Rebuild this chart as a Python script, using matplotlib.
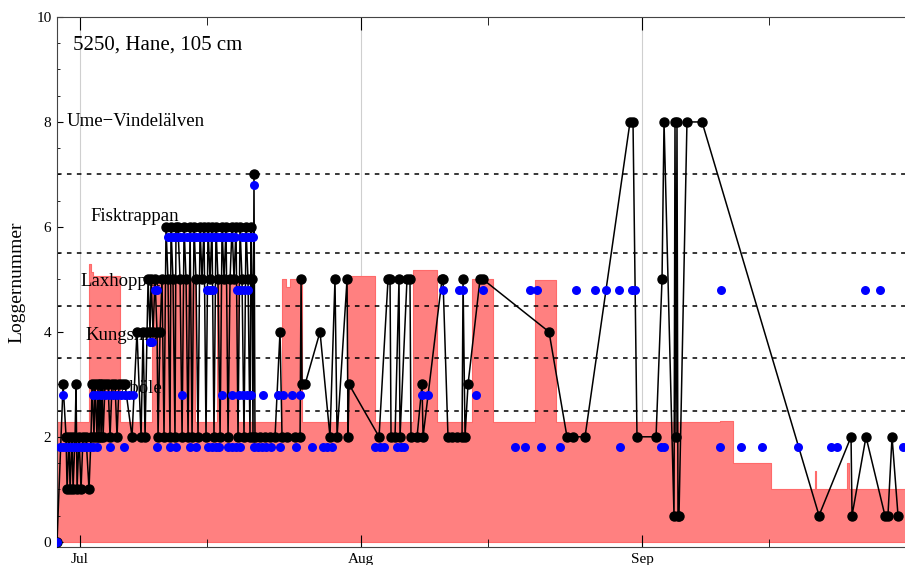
import matplotlib
matplotlib.use("Agg")
import matplotlib.pyplot as plt

plt.rcParams['font.family'] = ['Liberation Serif', 'DejaVu Serif']

# days since 1 July
month_ticks = [0, 31, 62]
month_labels = ['Jul', 'Aug', 'Sep']
mid_ticks = [14, 45, 76]

# red background (step profile)
red_day = [-2.54, 0.99, 1.21, 1.43, 4.41, 7.94, 12.68, 15.10, 17.42, 22.27, 22.71, 23.15,
           24.48, 29.44, 32.52, 36.71, 39.36, 43.22, 45.53, 50.17, 52.48, 70.56, 72.0,
           76.18, 81.04, 81.2, 84.6, 84.75, 91.2]
red_level = [2.28, 5.3, 5.15, 5.07, 2.28, 5.0, 2.28, 5.0, 2.28, 5.0, 4.85, 5.0,
             2.28, 5.07, 2.28, 5.17, 2.28, 5.0, 2.28, 4.98, 2.28, 2.3, 1.5,
             1.0, 1.35, 1.0, 1.5, 1.0, 1.0]

# logger positions (black line)
black_day = [-2.54, -1.87, -1.54, -1.43, -1.21, -1.10, -0.88, -0.77, -0.55, -0.44, -0.33, -0.11,
             0.11, 0.33, 0.66, 0.99, 1.21, 1.32, 1.54, 1.65, 1.87, 1.98, 2.09, 2.21, 2.32,
             2.43, 2.54, 2.76, 3.09, 3.31, 3.53, 3.86, 4.08, 4.30, 4.63, 4.96, 5.73, 6.28,
             6.73, 6.95, 7.17, 7.39, 7.50, 7.72, 7.83, 8.05, 8.27, 8.49, 8.60, 8.82, 9.04,
             9.26, 9.48, 9.70, 9.92, 10.03, 10.25, 10.47, 10.58, 10.80, 11.03, 11.25, 11.47,
             11.69, 11.91, 12.13, 12.35, 12.57, 12.79, 13.01, 13.23, 13.45, 13.67, 13.89,
             14.11, 14.33, 14.55, 14.77, 14.99, 15.21, 15.44, 15.66, 15.88, 16.10, 16.32,
             16.54, 16.76, 16.98, 17.20, 17.42, 17.64, 17.86, 18.08, 18.30, 18.52, 18.74,
             18.85, 18.96, 19.07, 19.18, 19.29, 19.85, 20.40, 20.95, 21.50, 22.05, 22.27,
             22.82, 23.70, 24.26, 24.37, 24.48, 24.81, 26.46, 27.56, 28.11, 28.34, 29.44,
             29.55, 29.66, 32.97, 33.96, 34.18, 34.29, 34.73, 35.17, 35.28, 36.05, 36.38,
             36.49, 37.16, 37.71, 37.82, 39.91, 40.02, 40.57, 41.01, 41.57, 42.12, 42.23,
             42.45, 42.78, 44.10, 44.43, 51.71, 53.69, 54.35, 55.68, 60.64, 60.97, 61.41,
             63.51, 64.17, 64.39, 65.49, 65.60, 65.71, 65.82, 65.93, 66.04, 66.92, 68.58,
             81.48, 85.01, 85.12, 86.66, 88.75, 89.08, 89.53, 90.19]
black_level = [0, 3, 2, 1, 2, 1, 2, 1, 2, 3, 1, 2,
               1, 2, 2, 1, 2, 3, 2, 3, 2, 3, 2, 3, 2,
               3, 2, 3, 3, 2, 3, 3, 2, 3, 3, 3, 2, 4,
               2, 4, 2, 4, 5, 4, 5, 4, 5, 4, 2, 4, 5,
               2, 6, 5, 2, 6, 5, 2, 6, 6, 5, 2, 6,
               5, 2, 6, 2, 6, 5, 2, 6, 5, 6, 2,
               6, 5, 6, 2, 6, 5, 2, 6, 5, 6, 2,
               5, 6, 5, 6, 2, 6, 5, 2, 6, 5, 2,
               6, 5, 2, 7, 2, 2, 2, 2, 2, 4, 2,
               2, 2, 2, 5, 3, 3, 4, 2, 5, 2, 5,
               2, 3, 2, 5, 5, 2, 2, 5, 2, 5, 5,
               2, 2, 3, 2, 5, 5, 2, 2, 2, 2, 5,
               2, 3, 5, 5, 4, 2, 2, 2, 8, 8, 2,
               2, 5, 8, 0.5, 8, 2, 8, 0.5, 0.5, 8, 8,
               0.5, 2, 0.5, 2, 0.5, 0.5, 2, 0.5]

# receiver detections (blue points)
blue_day = [-2.54,
            -2.21, -1.87, -1.54, -1.21, -0.88, -0.55, -0.22, 0.11, 0.44, 0.77, 1.10, 1.43, 1.87,
            3.31, 4.85, 8.49, 9.92, 10.58, 12.13, 12.79, 14.11, 14.55, 14.99, 15.33, 16.32,
            16.76, 17.20, 17.64, 19.18, 19.63, 20.07, 20.51, 21.06, 22.05, 23.81, 25.58,
            26.79, 27.23, 27.78, 32.52, 33.08, 33.52, 34.95, 35.39, 35.72, 47.96, 49.06,
            50.83, 52.92, 59.54, 64.06, 64.39, 70.56, 72.88, 75.19, 79.16, 82.80, 83.46, 90.74,
            -1.87, 1.43, 1.87, 2.32, 2.76, 3.20, 3.64, 4.08, 4.52, 4.96, 5.40, 5.84, 11.25,
            15.66, 16.76, 17.53, 17.97, 18.41, 18.85, 20.18, 21.83, 22.38, 23.37, 24.26,
            37.71, 38.37, 43.66,
            7.72, 7.94,
            8.27, 8.49, 14.00, 14.33, 14.66, 17.31, 17.64, 18.08, 18.52, 40.02, 41.79, 42.23,
            44.43, 49.61, 50.39, 54.69, 56.78, 57.99, 59.43, 60.86, 61.19, 70.67, 86.55, 88.20,
            9.70, 10.03, 10.36, 10.69, 11.03, 11.36, 11.80, 12.13, 12.46, 12.79, 13.12, 13.45,
            13.78, 14.11, 14.44, 14.77, 15.10, 15.44, 15.77, 16.10, 16.43, 16.76, 17.09,
            17.86, 18.19, 18.52, 18.85, 19.07,
            19.18]
blue_level = ([0] + [1.8] * 59 + [2.8] * 27 + [3.8] * 2 + [4.8] * 24 + [5.8] * 28 + [6.8])

sites = ['Ume\u2212Vindelälven', 'Fisktrappan', 'Laxhoppet', 'Kungsmo', 'Baggböle']
site_y = [8, 6.2, 4.95, 3.93, 2.92]
site_x = [-1.43, 1.1, 0.0, 0.55, 1.1]
boundaries = [2.5, 3.5, 4.5, 5.5, 7]

fig = plt.figure(figsize=(9.05, 5.65), dpi=100)
ax = fig.add_axes([57 / 905, 18 / 565, 849 / 905, 530 / 565])

ax.fill_between(red_day, red_level, step='post', color='#ff8080', lw=0.8,
                edgecolor='#ff6a6a', zorder=1)
for d in month_ticks:
    ax.axvline(d, color='#cfcfcf', lw=0.8, zorder=0.5)
for b in boundaries:
    ax.axhline(b, color='black', lw=1.1, ls=(0, (3, 3.5)), zorder=2)

for name, x, y in zip(sites, site_x, site_y):
    ax.text(x, y, name, fontsize=13.5, ha='left', va='center', zorder=2)
ax.text(-0.77, 9.47, '5250, Hane, 105 cm', fontsize=15, ha='left', va='center')

ax.plot(black_day, black_level, color='black', lw=1.1, marker='o', ms=6.5, zorder=3)
ax.scatter(blue_day, blue_level, s=42, color='#0000ff', zorder=4, linewidths=0)

ax.set_xlim(-2.54, 91.07)
ax.set_ylim(-0.1, 10)
ax.set_xticks(month_ticks)
ax.set_xticklabels(month_labels)
ax.set_xticks(mid_ticks, minor=True)
ax.set_yticks([0, 2, 4, 6, 8, 10])
ax.set_yticks([v / 2 for v in range(21)], minor=True)
ax.tick_params(axis='x', which='major', direction='in', length=9, top=True, labelsize=11, pad=4)
ax.tick_params(axis='x', which='minor', direction='in', length=6, top=True)
ax.tick_params(axis='y', which='major', direction='in', length=4, labelsize=11, pad=4)
ax.tick_params(axis='y', which='minor', direction='in', length=2)
ax.spines['right'].set_visible(False)
for s in ['left', 'bottom', 'top']:
    ax.spines[s].set_color('#444444')
ax.set_ylabel('Loggernummer', fontsize=14, labelpad=8)

plt.savefig('out.png', dpi=100)
